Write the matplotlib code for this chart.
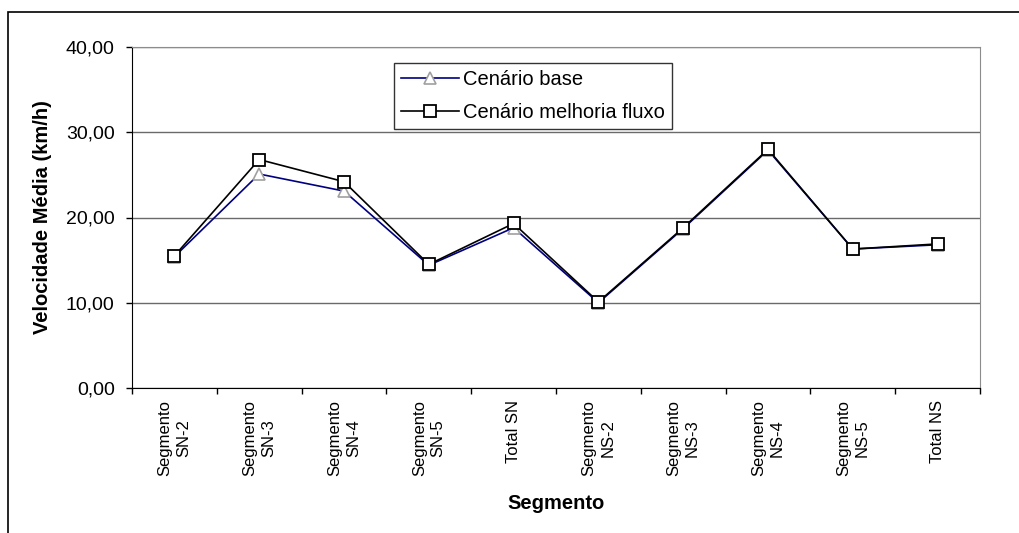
import matplotlib
matplotlib.use("Agg")
import matplotlib.pyplot as plt
from matplotlib.patches import Rectangle

categories = ["Segmento\nSN-2", "Segmento\nSN-3", "Segmento\nSN-4", "Segmento\nSN-5", "Total SN",
              "Segmento\nNS-2", "Segmento\nNS-3", "Segmento\nNS-4", "Segmento\nNS-5", "Total NS"]
base = [15.4, 25.1, 23.1, 14.4, 18.8, 10.0, 18.7, 27.9, 16.3, 16.8]
melhoria = [15.5, 26.8, 24.2, 14.5, 19.3, 10.1, 18.8, 28.0, 16.3, 16.9]
yticks = [0, 10, 20, 30, 40]
ytick_labels = ["0,00", "10,00", "20,00", "30,00", "40,00"]

plt.rcParams['font.family'] = ['Liberation Sans', 'DejaVu Sans']

W, H = 1019, 533
fig = plt.figure(figsize=(W / 100, H / 100), dpi=100)
fig.patch.set_facecolor('white')

# outer chart frame
fig.patches.append(Rectangle((8 / W, -0.1), 1.2, 1.1 - 12 / H, transform=fig.transFigure,
                             fill=False, edgecolor='black', linewidth=1.2))

L, R, T, B = 132, 980, 47, 388
ax = fig.add_axes([L / W, 1 - B / H, (R - L) / W, (B - T) / H])

x = list(range(len(categories)))
ax.plot(x, base, color='#000080', linewidth=1.2, marker='^', markersize=9,
        markerfacecolor='white', markeredgecolor='#a0a0a0', markeredgewidth=1.2,
        label='Cenário base', zorder=3)
ax.plot(x, melhoria, color='black', linewidth=1.2, marker='s', markersize=8.5,
        markerfacecolor='white', markeredgecolor='black', markeredgewidth=1.3,
        label='Cenário melhoria fluxo', zorder=4)

ax.set_xlim(-0.5, len(categories) - 0.5)
ax.set_ylim(0, 40)
ax.set_yticks(yticks)
ax.set_yticklabels(ytick_labels, fontsize=14)
ax.yaxis.grid(True, color='#6a6a6a', linewidth=1)
ax.set_axisbelow(True)

ax.set_xticks([i - 0.5 for i in range(len(categories) + 1)])
ax.set_xticklabels([])
ax.set_xticks(x, minor=True)
ax.set_xticklabels(categories, minor=True, rotation=90, fontsize=12,
                   va='top', ha='center', multialignment='center', linespacing=1.3)
ax.tick_params(axis='x', which='minor', length=0, pad=8.5)
ax.tick_params(axis='x', which='major', length=4.5, direction='out', width=1)
ax.tick_params(axis='y', length=4.5, direction='out', width=1, pad=8)

for s in ['top', 'right']:
    ax.spines[s].set_color('#8c8c8c')
ax.spines['left'].set_color('black')
ax.spines['bottom'].set_color('black')

ax.set_ylabel('Velocidade Média (km/h)', fontsize=14.5, fontweight='bold', labelpad=10)
ax.set_xlabel('Segmento', fontsize=14.5, fontweight='bold', labelpad=13)

leg = ax.legend(loc='upper left', bbox_to_anchor=((394 - L) / (R - L), 1 - (63 - T) / (B - T)),
                fontsize=14.5, frameon=True, fancybox=False, edgecolor='black',
                handlelength=2.9, handletextpad=0.2, borderpad=0.35, labelspacing=0.7,
                borderaxespad=0)
leg.get_frame().set_linewidth(1)

fig.savefig('out.png', dpi=100, facecolor='white')
